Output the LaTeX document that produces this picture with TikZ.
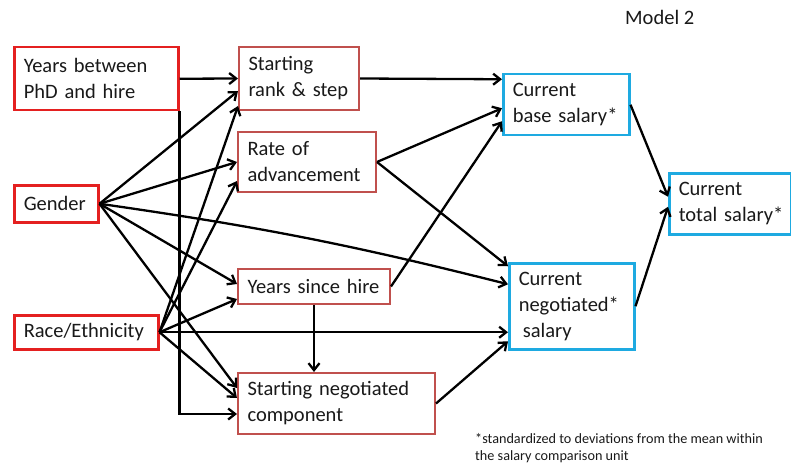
\documentclass[tikz,border=0pt]{standalone}
\usepackage{fontspec}
\setmainfont{Carlito}
\usetikzlibrary{arrows.meta}
\definecolor{leftred}{RGB}{228,32,32}
\definecolor{midred}{RGB}{192,80,77}
\definecolor{bluebx}{RGB}{30,170,225}
\definecolor{txt}{RGB}{25,25,25}
\tikzset{
  bx/.style={rectangle, fill=white, align=left, inner xsep=9.5pt, inner ysep=0pt,
    anchor=north west, text=txt,
    font=\fontsize{20.5}{26}\selectfont},
  lbox/.style={bx, draw=leftred, line width=2.5pt},
  mbox/.style={bx, draw=midred, line width=2pt},
  bbox/.style={bx, draw=bluebx, line width=2.5pt},
  conn/.style={draw=black, line width=2.3pt, -{Straight Barb[length=7pt,width=11pt]}},
}
\begin{document}
\begin{tikzpicture}[x=1pt,y=-1pt]
\useasboundingbox (0,0) rectangle (791,465);
% boxes
\node[lbox, minimum width=164pt, minimum height=63pt, text width=145pt] (yrs) at (13,46) {Years between\\PhD and hire};
\node[lbox, minimum width=84pt, minimum height=37pt, text width=65pt] (gen) at (13,184) {Gender};
\node[lbox, minimum width=144pt, minimum height=34pt, text width=125pt] (race) at (13,314) {\mbox{Race/Ethnicity}};
\node[mbox, minimum width=120pt, minimum height=63pt, text width=101pt] (rank) at (238,46) {Starting\\\mbox{rank \& step}};
\node[mbox, minimum width=138pt, minimum height=60pt, text width=119pt] (rate) at (237,131) {Rate of\\\mbox{advancement}};
\node[mbox, minimum width=152pt, minimum height=35pt, text width=133pt] (ysh) at (237,268) {\mbox{Years since hire}};
\node[mbox, minimum width=197pt, minimum height=61pt, text width=178pt] (sneg) at (237,372) {\mbox{Starting negotiated}\\component};
\node[bbox, minimum width=126pt, minimum height=61pt, text width=107pt] (base) at (502,73) {Current\\\mbox{base salary*}};
\node[bbox, minimum width=125pt, minimum height=86pt, text width=106pt] (cneg) at (508,262) {Current\\\mbox{negotiated*}\\\hspace*{4pt}salary};
\node[bbox, minimum width=122pt, minimum height=61pt, text width=103pt] (total) at (668,172) {Current\\\mbox{total salary*}};
% titles
\node[anchor=base west, inner sep=0pt, text=txt, font=\fontsize{20.5}{24}\selectfont] (title) at (625,25) {Model 2};
\node[anchor=base west, inner sep=0pt, align=left, text=txt, font=\fontsize{14.2}{16.5}\selectfont] (note) at (475,460) {*standardized to deviations from the mean within\\the salary comparison unit};
% connectors
\draw[conn] (yrs.east) -- (rank.west);
\draw[conn] (yrs.south east) |- ([yshift=-10.5pt]sneg.west);
\draw[conn] (gen.east) -- ([yshift=-12.5pt]rank.west);
\draw[conn] (gen.east) -- ([yshift=0pt]rate.west);
\draw[conn] (gen.east) -- ([yshift=2.5pt]ysh.west);
\draw[conn] (gen.east) -- ([yshift=15.5pt]sneg.west);
\draw[conn] (gen.east) to[bend left=3] ([yshift=22pt]cneg.west);
\draw[conn] (race.east) -- ([yshift=-27.5pt]rank.west);
\draw[conn] (race.east) -- ([yshift=-19pt]rate.west);
\draw[conn] (race.east) -- ([yshift=-12.5pt]ysh.west);
\draw[conn] (race.east) -- ([yshift=5.5pt]sneg.west);
\draw[conn] (race.east) -- ([yshift=-26pt]cneg.west);
\draw[conn] (ysh.south) -- (ysh.south |- sneg.north);
\draw[conn] (rank.east) -- ([yshift=25.5pt]base.west);
\draw[conn] (rate.east) -- ([yshift=-3.5pt]base.west);
\draw[conn] (rate.east) -- ([yshift=40pt]cneg.west);
\draw[conn] (ysh.east) -- ([yshift=-16.5pt]base.west);
\draw[conn] (sneg.east) -- ([yshift=-35pt]cneg.west);
\draw[conn] (base.east) -- ([yshift=7pt]total.west);
\draw[conn] (cneg.east) -- ([yshift=-3pt]total.west);
\end{tikzpicture}
\end{document}
